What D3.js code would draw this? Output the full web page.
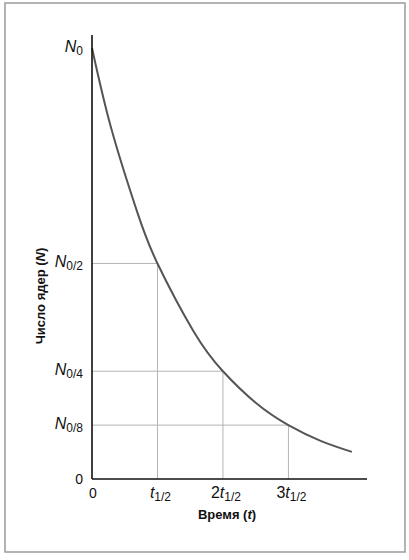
<!DOCTYPE html>
<html>
<head>
<meta charset="utf-8">
<script src="https://cdn.jsdelivr.net/npm/d3@7"></script>
<style>
  html, body { margin: 0; padding: 0; background: #fff; }
  svg { display: block; font-family: "Liberation Sans", Arial, sans-serif; }
</style>
</head>
<body>
<div id="chart"></div>
<script>
// decay curve points (t in half-lives, N as share of N0)
var times = [0, 0.3, 0.7, 1, 1.55, 2, 2.5, 3, 3.5, 3.97];
var values = [1, 0.81, 0.615, 0.5, 0.343, 0.25, 0.177, 0.125, 0.088, 0.063];

// y tick labels: value, subscript
var yTicks = [1, 0.5, 0.25, 0.125];
var yTickSubs = ['0', '0/2', '0/4', '0/8'];

// x tick labels: value, prefix
var xTicks = [1, 2, 3];
var xTickPrefix = ['', '2', '3'];

var width = 409, height = 560;

var svg = d3.select('#chart').append('svg')
    .attr('width', width)
    .attr('height', height);

// outer frame
svg.append('rect')
    .attr('x', 5).attr('y', 3)
    .attr('width', 400).attr('height', 549)
    .attr('fill', 'none')
    .attr('stroke', '#9a9a9a')
    .attr('stroke-width', 1.5);

var x = d3.scaleLinear().domain([0, 4.2]).range([92, 367]);
var y = d3.scaleLinear().domain([0, 1.03]).range([479, 35]);

// guide lines from the axes to the curve
var guides = svg.append('g')
    .attr('stroke', '#b4b4b4')
    .attr('stroke-width', 1)
    .attr('fill', 'none');

yTicks.slice(1).forEach(function(v, i) {
    var t = xTicks[i];
    guides.append('line')
        .attr('x1', x(0)).attr('x2', x(t))
        .attr('y1', y(v)).attr('y2', y(v));
    guides.append('line')
        .attr('x1', x(t)).attr('x2', x(t))
        .attr('y1', y(0)).attr('y2', y(v));
});

// decay curve
var line = d3.line()
    .x(function(d) { return x(d[0]); })
    .y(function(d) { return y(d[1]); })
    .curve(d3.curveNatural);

svg.append('path')
    .datum(d3.zip(times, values))
    .attr('d', line)
    .attr('fill', 'none')
    .attr('stroke', '#555')
    .attr('stroke-width', 2);

// axes
svg.append('line')
    .attr('x1', x(0)).attr('x2', x(0))
    .attr('y1', y(1.03)).attr('y2', y(0))
    .attr('stroke', '#111').attr('stroke-width', 1.6);
svg.append('line')
    .attr('x1', x(0)).attr('x2', x(4.2))
    .attr('y1', y(0)).attr('y2', y(0))
    .attr('stroke', '#111').attr('stroke-width', 1.6);

// y tick labels
var yLab = svg.append('g').attr('fill', '#111');

yTicks.forEach(function(v, i) {
    var txt = yLab.append('text')
        .attr('x', 83)
        .attr('y', y(v) + 4)
        .attr('text-anchor', 'end')
        .attr('font-size', 16);
    txt.append('tspan').attr('font-style', 'italic').text('N');
    txt.append('tspan').attr('font-size', 12).attr('dy', 3).text(yTickSubs[i]);
});

yLab.append('text')
    .attr('x', 83).attr('y', y(0) + 5)
    .attr('text-anchor', 'end')
    .attr('font-size', 14)
    .text('0');

// x tick labels
var xLab = svg.append('g').attr('fill', '#111');

xLab.append('text')
    .attr('x', x(0) + 1).attr('y', 498)
    .attr('text-anchor', 'middle')
    .attr('font-size', 14)
    .text('0');

xTicks.forEach(function(t, i) {
    var txt = xLab.append('text')
        .attr('x', x(t) + 3)
        .attr('y', 498)
        .attr('text-anchor', 'middle')
        .attr('font-size', 16);
    if (xTickPrefix[i]) txt.append('tspan').text(xTickPrefix[i]);
    txt.append('tspan').attr('font-style', 'italic').text('t');
    txt.append('tspan').attr('font-size', 12).attr('dy', 3).text('1/2');
});

// axis titles
var xt = svg.append('text')
    .attr('x', 227).attr('y', 519)
    .attr('text-anchor', 'middle')
    .attr('font-size', 13)
    .attr('font-weight', 'bold')
    .attr('fill', '#111');
xt.append('tspan').text('Время (');
xt.append('tspan').attr('font-style', 'italic').text('t');
xt.append('tspan').text(')');

var yt = svg.append('text')
    .attr('transform', 'translate(45,296) rotate(-90)')
    .attr('text-anchor', 'middle')
    .attr('font-size', 13)
    .attr('font-weight', 'bold')
    .attr('fill', '#111');
yt.append('tspan').text('Число ядер (');
yt.append('tspan').attr('font-style', 'italic').text('N');
yt.append('tspan').text(')');
</script>
</body>
</html>
